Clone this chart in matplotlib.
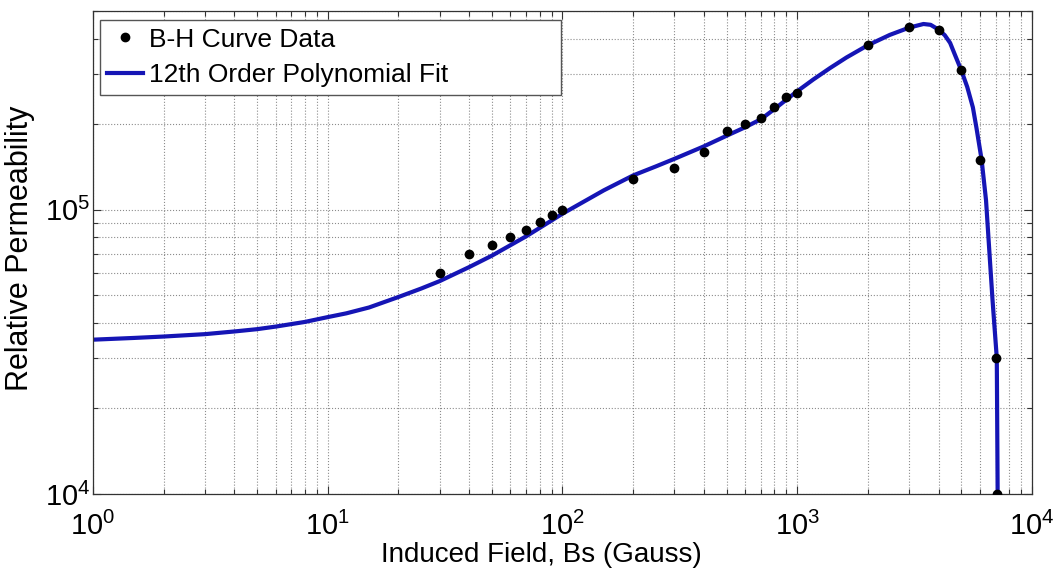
import math
import matplotlib
matplotlib.use('Agg')
import matplotlib.pyplot as plt
from matplotlib.ticker import FixedLocator, LogLocator, FuncFormatter, NullFormatter

# B-H curve data
bs_data = [30, 40, 50, 60, 70, 80, 90, 100, 200, 300, 400, 500, 600, 700,
           800, 900, 1000, 2000, 3000, 4000, 5000, 6000, 7000, 7100]
mu_data = [6.0e4, 7.0e4, 7.5e4, 8.04e4, 8.5e4, 9.06e4, 9.55e4, 1.0e5, 1.28e5,
           1.40e5, 1.59e5, 1.89e5, 2.01e5, 2.10e5, 2.29e5, 2.49e5, 2.58e5,
           3.80e5, 4.38e5, 4.28e5, 3.09e5, 1.50e5, 3.01e4, 1.0e4]

# 12th order polynomial fit, sampled from the figure
bs_fit = [1, 1.5, 2, 3, 4, 5, 6, 8, 10, 12, 15, 20, 25, 30, 40, 50, 70, 100,
          150, 200, 250, 300, 400, 500, 600, 700, 800, 900, 1000, 1170, 1380,
          1620, 2000, 2480, 3000, 3200, 3450, 3700, 4000, 4250, 4480, 4700,
          5000, 5300, 5600, 5800, 6100, 6370, 6790, 7080, 7140]
mu_fit = [3.49e4, 3.54e4, 3.58e4, 3.65e4, 3.73e4, 3.80e4, 3.88e4, 4.03e4,
          4.19e4, 4.32e4, 4.53e4, 4.93e4, 5.28e4, 5.61e4, 6.28e4, 6.89e4,
          8.06e4, 9.68e4, 1.17e5, 1.32e5, 1.42e5, 1.51e5, 1.67e5, 1.82e5,
          1.95e5, 2.08e5, 2.26e5, 2.44e5, 2.61e5, 2.87e5, 3.15e5, 3.43e5,
          3.79e5, 4.12e5, 4.37e5, 4.43e5, 4.50e5, 4.47e5, 4.30e5, 4.11e5,
          3.86e5, 3.50e5, 3.09e5, 2.70e5, 2.29e5, 1.94e5, 1.50e5, 1.08e5,
          4.81e4, 3.01e4, 1.0e4]

plt.rcParams['font.family'] = ['Liberation Sans', 'DejaVu Sans']
plt.rcParams['mathtext.fontset'] = 'custom'
plt.rcParams['mathtext.rm'] = 'Liberation Sans'
plt.rcParams['mathtext.it'] = 'Liberation Sans'
plt.rcParams['mathtext.bf'] = 'Liberation Sans'

fig = plt.figure(figsize=(10.59, 5.69), dpi=100)
ax = fig.add_axes([0.0878, 0.1318, 0.8867, 0.8489])

ax.plot(bs_data, mu_data, 'o', color='black', markersize=6,
        label='B-H Curve Data', zorder=3)
ax.plot(bs_fit, mu_fit, '-', color='#1515b5', linewidth=3,
        label='12th Order Polynomial Fit', zorder=2)

ax.set_xscale('log')
ax.set_yscale('log')
ax.set_xlim(1, 1e4)
ax.set_ylim(1e4, 5e5)

ax.xaxis.set_major_locator(FixedLocator([1, 10, 100, 1000, 10000]))
ax.yaxis.set_major_locator(FixedLocator([1e4, 1e5]))
ax.xaxis.set_minor_locator(LogLocator(base=10, subs=range(2, 10), numticks=20))
ax.yaxis.set_minor_locator(LogLocator(base=10, subs=range(2, 10), numticks=20))
fmt = FuncFormatter(lambda v, p: r'$\mathrm{10^{%d}}$' % round(math.log10(v)))
ax.xaxis.set_major_formatter(fmt)
ax.yaxis.set_major_formatter(fmt)
ax.xaxis.set_minor_formatter(NullFormatter())
ax.yaxis.set_minor_formatter(NullFormatter())

ax.tick_params(which='both', direction='in', top=True, right=True,
               labelsize=21, colors='#333333', labelcolor='black')
ax.tick_params(which='major', length=6, width=0.8)
ax.tick_params(which='minor', length=3.5, width=0.8)
ax.tick_params(axis='x', pad=13)
ax.tick_params(axis='y', pad=2)

ax.grid(True, which='both', linestyle=':', color='#8c8c8c', linewidth=0.8)
for s in ax.spines.values():
    s.set_color('#333333')
    s.set_linewidth(0.9)

ax.set_xlabel('Induced Field, Bs (Gauss)', fontsize=20)
ax.xaxis.set_label_coords(0.477, -0.1)
ax.set_ylabel('Relative Permeability', fontsize=22)
ax.yaxis.set_label_coords(-0.062, 0.509)

ax.legend(loc='upper left', bbox_to_anchor=(0.0075, 0.5, 0.491, 0.481),
          mode='expand', borderaxespad=0, fontsize=19, fancybox=False,
          framealpha=1, edgecolor='#555555', handlelength=1.36,
          handletextpad=0.2, borderpad=0.28, labelspacing=0.44)

fig.savefig('out.png', dpi=100)
